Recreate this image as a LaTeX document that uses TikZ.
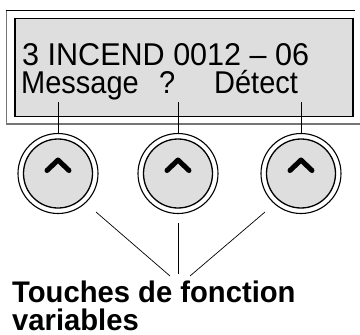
\documentclass[tikz,border=0pt]{standalone}
\usepackage{fontspec}
\setmainfont{Liberation Sans}
\definecolor{lcdgray}{HTML}{DEDEDE}
\definecolor{framegray}{HTML}{767676}
\tikzset{
  lcdtext/.style={anchor=base west, inner sep=0pt, font=\fontsize{31.5}{36}\selectfont},
  labeltext/.style={anchor=base west, inner sep=0pt, font=\bfseries\fontsize{29.8}{34}\selectfont},
  keyring/.style={circle, draw, line width=1.1pt, minimum size=80pt, inner sep=0pt},
  keyface/.style={circle, draw, line width=1.3pt, fill=lcdgray, minimum size=69pt, inner sep=0pt},
  chevron/.style={line width=5pt, line cap=round, line join=round},
  lead/.style={line width=0.7pt}
}
\newcommand{\narrow}[2]{\scalebox{#1}[1]{#2}}
\begin{document}
\begin{tikzpicture}[x=1pt,y=-1pt]
    \def \ro {40}
    \useasboundingbox (0,0) rectangle (360,335);

    % display
    \draw[framegray, line width=1pt] (6.5,124) -- (6.5,10);
    \draw[line width=1pt] (6.5,10) -- (355,10);
    \draw[framegray, line width=1.2pt] (6.5,124) -- (362,124);
    \draw[line width=1.2pt, fill=lcdgray] (15,18.5) rectangle (353,116.5);

    \node[lcdtext] (row1) at (22,65) {\narrow{0.97}{3 INCEND 0012 – 06}};
    \node[lcdtext] (msg) at (21,93.5) {\narrow{0.92}{Message}};
    \node[lcdtext] (ask) at (159,93.5) {\narrow{0.92}{?}};
    \node[lcdtext] (det) at (214,93.5) {\narrow{0.92}{Détect}};

    % soft keys
    \foreach \n/\x in {1/58,2/178,3/301} {
      \node[keyring] (r\n) at (\x,173.5) {};
      \node[keyface] (k\n) at (\x,173.5) {};
      \draw[chevron] ([shift={(-11,-3)}]k\n.center) -- ([shift={(0,-13.5)}]k\n.center)
        -- ([shift={(11,-3)}]k\n.center);
    }

    \coordinate (m1) at (58,102);
    \coordinate (m2) at (178,102);
    \coordinate (m3) at (301,102);
    \draw[lead] (m1) -- (r1.north);
    \draw[lead] (m2) -- (r2.north);
    \draw[lead] (m3) -- (r3.north);

    % label
    \node[labeltext] (lab1) at (12,302.5) {\narrow{0.98}{Touches de fonction}};
    \node[labeltext] (lab2) at (12,330) {\narrow{0.98}{variables}};

    \coordinate (f1) at (96,212);
    \coordinate (f2) at (178.5,223);
    \coordinate (f3) at (265,212);
    \coordinate (e1) at (170,276);
    \coordinate (e2) at (178.5,274);
    \coordinate (e3) at (190,276);
    \draw[lead] (f1) -- (e1);
    \draw[lead] (f2) -- (e2);
    \draw[lead] (f3) -- (e3);
\end{tikzpicture}
\end{document}
